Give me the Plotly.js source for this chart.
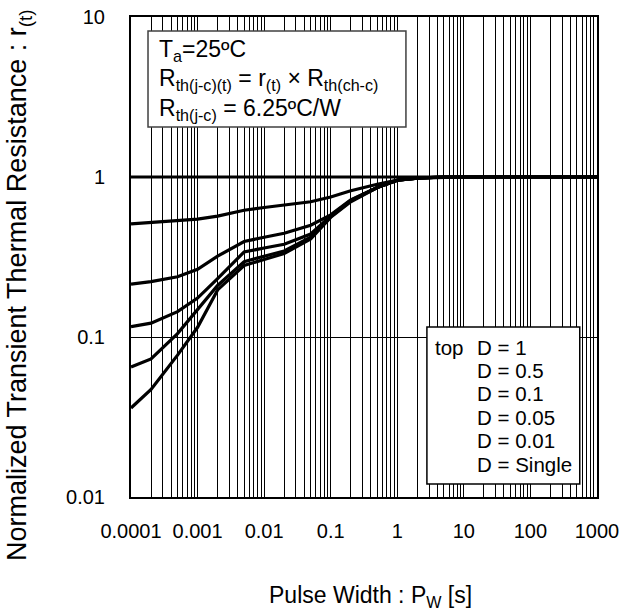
<!DOCTYPE html>
<html>
<head>
<meta charset="utf-8">
<script src="https://cdn.plot.ly/plotly-3.0.1.min.js"></script>
<style>html,body{margin:0;padding:0;background:#fff;}#chart{width:623px;height:613px;}</style>
</head>
<body>
<div id="chart"></div>
<script>
// Pulse width [s]
const pulseWidth = [1e-4, 2e-4, 5e-4, 1e-3, 2e-3, 5e-3, 1e-2, 2e-2, 5e-2, 0.1, 0.2, 0.5, 1, 2, 5, 10, 100, 1000];
// Normalized transient thermal resistance r(t)
const rD1      = [1, 1, 1, 1, 1, 1, 1, 1, 1, 1, 1, 1, 1, 1, 1, 1, 1, 1];
const rD05     = [0.51, 0.52, 0.53, 0.545, 0.57, 0.62, 0.645, 0.665, 0.70, 0.75, 0.82, 0.90, 0.957, 0.985, 1, 1, 1, 1];
const rD01     = [0.214, 0.222, 0.238, 0.265, 0.32, 0.395, 0.42, 0.445, 0.50, 0.58, 0.72, 0.86, 0.955, 0.985, 1, 1, 1, 1];
const rD005    = [0.116, 0.122, 0.144, 0.175, 0.232, 0.34, 0.36, 0.38, 0.44, 0.57, 0.715, 0.86, 0.955, 0.985, 1, 1, 1, 1];
const rD001    = [0.065, 0.073, 0.105, 0.148, 0.21, 0.296, 0.32, 0.345, 0.42, 0.565, 0.71, 0.86, 0.955, 0.985, 1, 1, 1, 1];
const rSingle  = [0.036, 0.047, 0.077, 0.115, 0.197, 0.28, 0.305, 0.333, 0.41, 0.56, 0.70, 0.86, 0.955, 0.985, 1, 1, 1, 1];

const seriesNames = ["D = 1", "D = 0.5", "D = 0.1", "D = 0.05", "D = 0.01", "D = Single"];
const seriesValues = [rD1, rD05, rD01, rD005, rD001, rSingle];

const xTickVals = [1e-4, 1e-3, 1e-2, 1e-1, 1, 10, 100, 1000];
const xTickText = ["0.0001", "0.001", "0.01", "0.1", "1", "10", "100", "1000"];
const yTickVals = [0.01, 0.1, 1, 10];
const yTickText = ["0.01", "0.1", "1", "10"];

const infoLines = [
  "T<sub>a</sub>=25ºC",
  "R<sub>th(j-c)(t)</sub> = r<sub>(t)</sub> × R<sub>th(ch-c)</sub>",
  "R<sub>th(j-c)</sub> = 6.25ºC/W"
];

// minor grid positions 2..9 in each decade
const xMinor = [];
for (let e = -4; e < 3; e++) for (let m = 2; m <= 9; m++) xMinor.push(m * Math.pow(10, e));

const FONT = "Liberation Sans, Arial, sans-serif";

const traces = seriesValues.map((vals, i) => ({
  x: pulseWidth, y: vals, name: seriesNames[i], type: "scatter", mode: "lines",
  line: {color: "#000", width: 3.2}, hoverinfo: "skip"
}));

const annotations = [];
// axis titles
annotations.push({xref: "paper", yref: "paper", x: -0.2403, y: 0.4417, textangle: -90,
  xanchor: "center", yanchor: "middle", showarrow: false,
  text: "Normalized Transient Thermal Resistance : r<sub>(t)</sub>", font: {family: FONT, size: 27, color: "#000"}});
annotations.push({xref: "paper", yref: "paper", x: 0.513, y: -0.2083,
  xanchor: "center", yanchor: "middle", showarrow: false,
  text: "Pulse Width : P<sub>W</sub> [s]", font: {family: FONT, size: 23, color: "#000"}});
// info box lines
const infoY = [0.931, 0.8688, 0.80625];
infoLines.forEach((t, i) => annotations.push({xref: "paper", yref: "paper", x: 0.0558, y: infoY[i],
  xanchor: "left", yanchor: "middle", showarrow: false, text: t, font: {family: FONT, size: 23, color: "#000"}}));
// legend box text
annotations.push({xref: "paper", yref: "paper", x: 0.648, y: 0.3125, xanchor: "left", yanchor: "middle",
  showarrow: false, text: "top", font: {family: FONT, size: 20.5, color: "#000"}});
seriesNames.forEach((t, i) => annotations.push({xref: "paper", yref: "paper", x: 0.738, y: 0.3125 - i * 0.0488,
  xanchor: "left", yanchor: "middle", showarrow: false, text: t, font: {family: FONT, size: 20.5, color: "#000"}}));

const shapes = [
  {type: "rect", xref: "paper", yref: "paper", x0: 0.0365, x1: 0.590, y0: 0.7708, y1: 0.9708,
   fillcolor: "#fff", line: {color: "#404040", width: 1.5}, layer: "above"},
  {type: "rect", xref: "paper", yref: "paper", x0: 0.635, x1: 0.963, y0: 0.027, y1: 0.354,
   fillcolor: "#fff", line: {color: "#000", width: 1.5}, layer: "above"}
];

const layout = {
  width: 623, height: 613,
  margin: {l: 131, r: 26, t: 17, b: 116},
  paper_bgcolor: "#fff", plot_bgcolor: "#fff",
  showlegend: false,
  font: {family: FONT, size: 20, color: "#000"},
  xaxis: {
    type: "log", range: [-4, 3], tickmode: "array", tickvals: xTickVals, ticktext: xTickText,
    ticks: "", showgrid: true, gridcolor: "#000", gridwidth: 1, zeroline: false,
    showline: true, linecolor: "#000", linewidth: 2, mirror: true,
    tickfont: {family: FONT, size: 20, color: "#000"}, ticklabelstandoff: 15,
    minor: {tickmode: "array", tickvals: xMinor, showgrid: true, gridcolor: "#000", gridwidth: 1, ticks: ""}
  },
  yaxis: {
    type: "log", range: [-2, 1], tickmode: "array", tickvals: yTickVals, ticktext: yTickText,
    ticks: "", showgrid: true, gridcolor: "#000", gridwidth: 1, zeroline: false,
    showline: true, linecolor: "#000", linewidth: 2, mirror: true,
    tickfont: {family: FONT, size: 20, color: "#000"}, ticklabelstandoff: 20
  },
  annotations: annotations,
  shapes: shapes
};

Plotly.newPlot("chart", traces, layout, {staticPlot: true, displayModeBar: false});
</script>
</body>
</html>
